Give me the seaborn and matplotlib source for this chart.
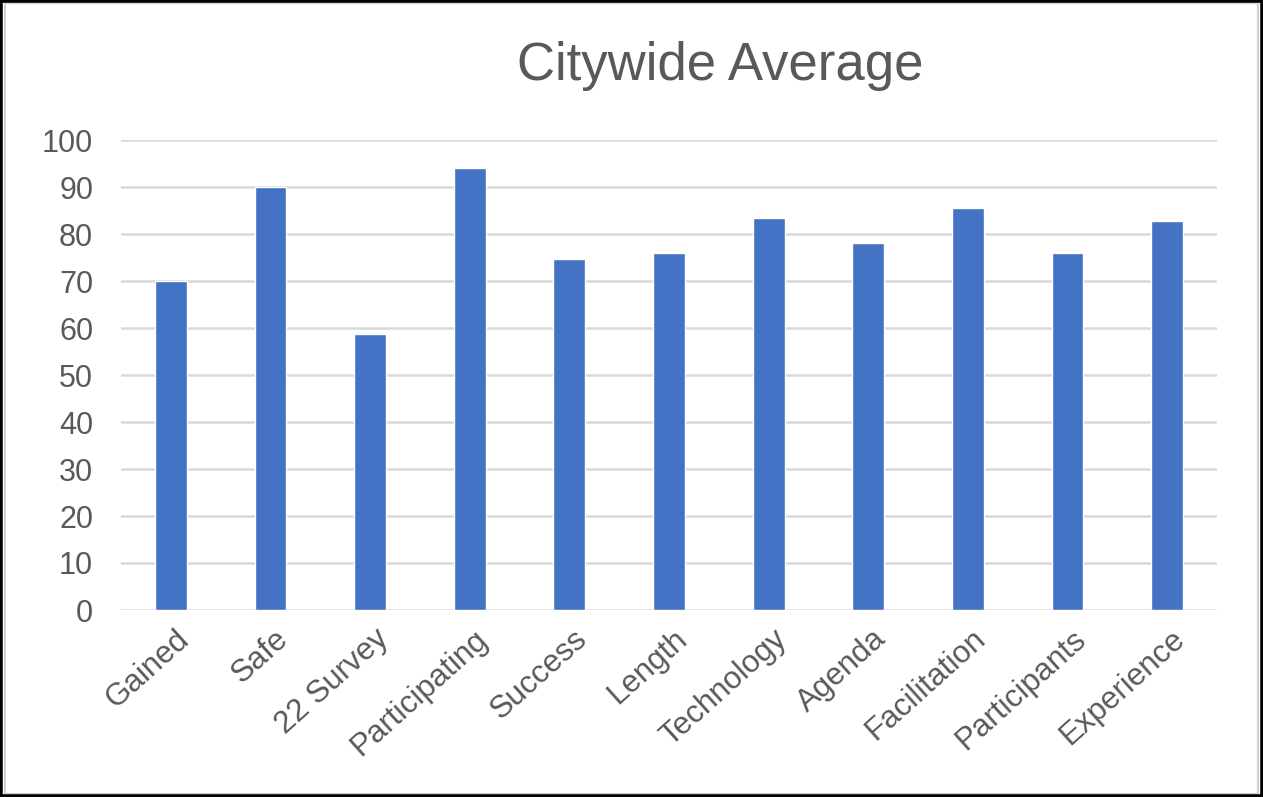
import matplotlib
matplotlib.use("Agg")
import matplotlib.pyplot as plt
import matplotlib.transforms as mtransforms
import seaborn as sns
import pandas as pd
from matplotlib.patches import Rectangle

categories = ["Gained", "Safe", "22 Survey", "Participating", "Success", "Length",
              "Technology", "Agenda", "Facilitation", "Participants", "Experience"]
values = [70.1, 90.1, 58.8, 94.0, 74.7, 75.9, 83.3, 78.1, 85.5, 75.9, 82.7]
y_ticks = [0, 10, 20, 30, 40, 50, 60, 70, 80, 90, 100]
title = "Citywide Average"

sns.set_theme(style="white")
plt.rcParams["font.family"] = ["Liberation Sans", "DejaVu Sans"]

df = pd.DataFrame({"category": categories, "value": values})

fig = plt.figure(figsize=(12.63, 7.97), dpi=100)
ax = fig.add_axes([121 / 1263, 1 - 610 / 797, (1217 - 121) / 1263, 470 / 797])

sns.barplot(data=df, x="category", y="value", color="#4472C4", width=0.32,
            saturation=1, ax=ax, zorder=3)

ax.set_ylim(0, 100)
ax.set_yticks(y_ticks)
ax.set_xlim(-0.5, len(categories) - 0.5)
ax.yaxis.grid(True, color="#d9d9d9", linewidth=1.8, zorder=0)
ax.set_axisbelow(True)
for s in ax.spines.values():
    s.set_visible(False)
ax.set_xlabel("")
ax.set_ylabel("")
ax.tick_params(axis="both", length=0, colors="#595959", labelsize=22)
ax.tick_params(axis="y", pad=20)
ax.set_xticks(range(len(categories)))
ax.set_xticklabels(categories, rotation=42, ha="right", rotation_mode="anchor",
                   color="#595959", fontsize=22.5)
ax.tick_params(axis="x", pad=10)
shift = mtransforms.ScaledTranslation(4 / 100, 0, fig.dpi_scale_trans)
for lbl in ax.get_xticklabels():
    lbl.set_transform(lbl.get_transform() + shift)

fig.text(720 / 1263, 1 - 66 / 797, title, ha="center", va="center",
         fontsize=38, color="#595959")

# figure frame
fig.patches.append(Rectangle((0.004, 0.004), 0.992, 0.992, transform=fig.transFigure,
                             fill=False, edgecolor="#d0d0d0", linewidth=1.5))
fig.patches.append(Rectangle((0, 0), 1, 1, transform=fig.transFigure,
                             fill=False, edgecolor="black", linewidth=4))

fig.savefig("out.png", dpi=100)
